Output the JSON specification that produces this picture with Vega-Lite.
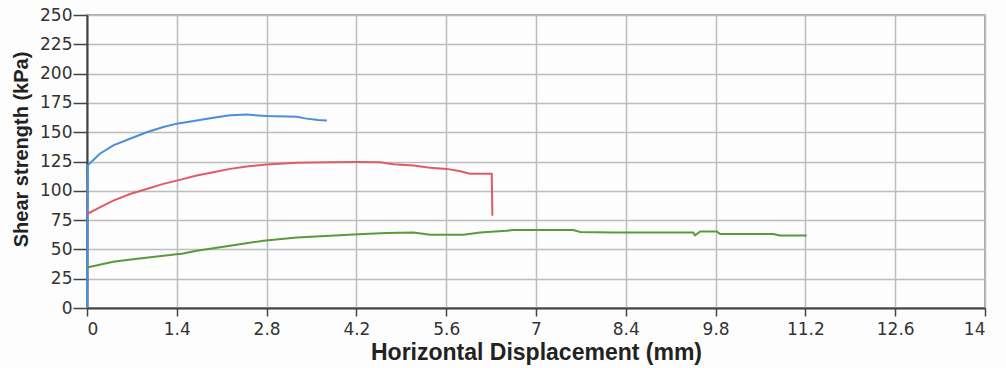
{
  "$schema": "https://vega.github.io/schema/vega-lite/v6.json",
  "width": 898,
  "height": 293,
  "autosize": {"type": "none"},
  "padding": {"left": 87, "top": 15, "right": 21, "bottom": 60},
  "background": "#fdfdfd",
  "config": {
    "font": "DejaVu Sans",
    "view": {"stroke": "#8a8a8a", "strokeWidth": 1.5}
  },
  "data": {
    "values": [
      {"s": "A", "x": 0, "y": 0},
      {"s": "A", "x": 0.01, "y": 121.6},
      {"s": "A", "x": 0.2, "y": 131.6},
      {"s": "A", "x": 0.41, "y": 138.7},
      {"s": "A", "x": 0.67, "y": 144.4},
      {"s": "A", "x": 0.93, "y": 150},
      {"s": "A", "x": 1.19, "y": 154.4},
      {"s": "A", "x": 1.4, "y": 157.3},
      {"s": "A", "x": 1.71, "y": 160},
      {"s": "A", "x": 1.97, "y": 162.4},
      {"s": "A", "x": 2.23, "y": 164.4},
      {"s": "A", "x": 2.49, "y": 165},
      {"s": "A", "x": 2.8, "y": 163.8},
      {"s": "A", "x": 3.27, "y": 163.2},
      {"s": "A", "x": 3.4, "y": 161.8},
      {"s": "A", "x": 3.6, "y": 160.5},
      {"s": "A", "x": 3.74, "y": 160},
      {"s": "B", "x": 0, "y": 80.2},
      {"s": "B", "x": 0.2, "y": 85.9},
      {"s": "B", "x": 0.41, "y": 91.6},
      {"s": "B", "x": 0.67, "y": 97.3},
      {"s": "B", "x": 0.93, "y": 101.6},
      {"s": "B", "x": 1.19, "y": 105.9},
      {"s": "B", "x": 1.4, "y": 108.7},
      {"s": "B", "x": 1.71, "y": 113},
      {"s": "B", "x": 1.97, "y": 115.9},
      {"s": "B", "x": 2.23, "y": 118.7},
      {"s": "B", "x": 2.49, "y": 120.7},
      {"s": "B", "x": 2.8, "y": 122.4},
      {"s": "B", "x": 3.27, "y": 123.9},
      {"s": "B", "x": 3.79, "y": 124.4},
      {"s": "B", "x": 4.2, "y": 124.6},
      {"s": "B", "x": 4.57, "y": 124.4},
      {"s": "B", "x": 4.78, "y": 122.6},
      {"s": "B", "x": 5.09, "y": 121.6},
      {"s": "B", "x": 5.35, "y": 119.6},
      {"s": "B", "x": 5.61, "y": 118.7},
      {"s": "B", "x": 5.82, "y": 116.7},
      {"s": "B", "x": 5.97, "y": 114.5},
      {"s": "B", "x": 6.31, "y": 114.5},
      {"s": "B", "x": 6.32, "y": 78.8},
      {"s": "C", "x": 0, "y": 34.5},
      {"s": "C", "x": 0.41, "y": 39.5},
      {"s": "C", "x": 0.72, "y": 41.5},
      {"s": "C", "x": 1.19, "y": 44.5},
      {"s": "C", "x": 1.5, "y": 46.5},
      {"s": "C", "x": 1.71, "y": 48.8},
      {"s": "C", "x": 2.23, "y": 53.1},
      {"s": "C", "x": 2.75, "y": 57.4},
      {"s": "C", "x": 3.27, "y": 60.2},
      {"s": "C", "x": 3.79, "y": 61.6},
      {"s": "C", "x": 4.31, "y": 63.1},
      {"s": "C", "x": 4.67, "y": 64},
      {"s": "C", "x": 5.09, "y": 64.5},
      {"s": "C", "x": 5.35, "y": 62.5},
      {"s": "C", "x": 5.87, "y": 62.5},
      {"s": "C", "x": 6.13, "y": 64.5},
      {"s": "C", "x": 6.54, "y": 65.9},
      {"s": "C", "x": 6.65, "y": 66.5},
      {"s": "C", "x": 7.58, "y": 66.5},
      {"s": "C", "x": 7.69, "y": 64.8},
      {"s": "C", "x": 8.21, "y": 64.5},
      {"s": "C", "x": 9.45, "y": 64.5},
      {"s": "C", "x": 9.48, "y": 62},
      {"s": "C", "x": 9.56, "y": 65.3},
      {"s": "C", "x": 9.82, "y": 65.3},
      {"s": "C", "x": 9.87, "y": 63.1},
      {"s": "C", "x": 10.7, "y": 63.1},
      {"s": "C", "x": 10.8, "y": 61.8},
      {"s": "C", "x": 11.22, "y": 61.8}
    ]
  },
  "mark": {"type": "line", "strokeWidth": 2, "interpolate": "linear"},
  "encoding": {
    "x": {
      "field": "x",
      "type": "quantitative",
      "scale": {"domain": [0, 14], "nice": false},
      "axis": {
        "title": "Horizontal Displacement (mm)",
        "values": [0, 1.4, 2.8, 4.2, 5.6, 7, 8.4, 9.8, 11.2, 12.6, 14],
        "format": ".2~f",
        "labelFontSize": 17,
        "labelColor": "#333",
        "labelPadding": 5,
        "tickSize": 8,
        "tickColor": "#444",
        "tickWidth": 1.5,
        "domainColor": "#444",
        "domainWidth": 2,
        "gridColor": "#bdbdbd",
        "gridWidth": 1.5,
        "titleFont": "Liberation Sans",
        "titleFontSize": 23,
        "titleFontWeight": "bold",
        "titleColor": "#222",
        "titlePadding": 4
      }
    },
    "y": {
      "field": "y",
      "type": "quantitative",
      "scale": {"domain": [0, 250], "nice": false},
      "axis": {
        "title": "Shear strength (kPa)",
        "values": [0, 25, 50, 75, 100, 125, 150, 175, 200, 225, 250],
        "labelFontSize": 17,
        "labelColor": "#333",
        "labelPadding": 1,
        "tickSize": 14,
        "tickColor": "#444",
        "tickWidth": 1.5,
        "domainColor": "#444",
        "domainWidth": 2,
        "gridColor": "#bdbdbd",
        "gridWidth": 1.5,
        "titleFont": "Liberation Sans",
        "titleFontSize": 20,
        "titleFontWeight": "bold",
        "titleColor": "#222",
        "titlePadding": 8,
        "titleY": 134
      }
    },
    "color": {
      "field": "s",
      "type": "nominal",
      "scale": {"domain": ["A", "B", "C"], "range": ["#4a8fd8", "#e05b66", "#5b9a3c"]},
      "legend": null
    }
  }
}
